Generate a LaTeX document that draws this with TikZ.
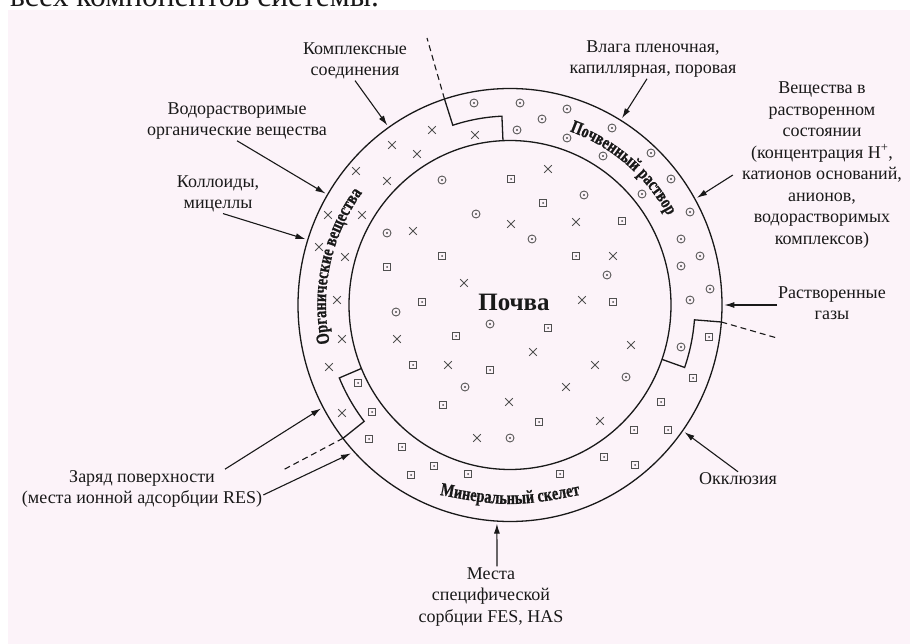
\documentclass[tikz,border=0pt]{standalone}
\usepackage{fontspec}
\setmainfont{Liberation Serif}
\newfontfamily\ringfont[FakeStretch=0.78, FakeBold=0.8]{Liberation Serif}
\usetikzlibrary{arrows.meta,decorations.text,calc}
\definecolor{bgpink}{RGB}{252,243,249}
\definecolor{ink}{RGB}{25,25,25}
\definecolor{mkgray}{RGB}{80,80,80}
\newcommand{\ringstyle}{\ringfont\bfseries\fontsize{18.5}{18.5}\selectfont\color{ink}}
\begin{document}
\begin{tikzpicture}[x=1pt,y=-1pt,
  lab/.style={font=\fontsize{18}{21.5}\selectfont, align=center, text=ink, inner sep=1pt},
  arr/.style={-{Latex[length=10pt,width=6pt]}, line width=1.1pt, draw=ink},
  ring/.style={line width=1.3pt, draw=ink},
  dashline/.style={dash pattern=on 6pt off 4pt, line width=1.1pt, draw=ink},
  mk/.style={draw=mkgray, line width=0.85pt},
  xmark/.pic={\draw[mk] (-3.8,-3.8)--(3.8,3.8) (-3.8,3.8)--(3.8,-3.8);},
  odot/.pic={\draw[mk] (0,0) circle (4); \fill[mkgray] (0,0) circle (1.1);},
  sdot/.pic={\draw[mk] (-3.7,-3.7) rectangle (3.7,3.7); \fill[mkgray] (0,0) circle (1);},
]
\useasboundingbox (0,0) rectangle (910,644);
\fill[white] (0,0) rectangle (910,644);
\fill[bgpink] (8,10) rectangle (910,644);

% cropped line of text at the very top
\begin{scope}
  \clip (0,0) rectangle (400,8);
  \node[anchor=base west, font=\fontsize{31.5}{31.5}\selectfont, inner sep=0pt, text=ink] (toptext) at (10,6.5) {всех компонентов системы.};
\end{scope}

% ---------- rings ----------
\begin{scope}[shift={(510,305)}, x=0.979pt, y=1pt]
  \draw[ring] (0,0) ellipse [x radius=212pt, y radius=216.5pt];
  \draw[ring] (0,0) ellipse [x radius=161pt, y radius=164.5pt];
  % sector boundaries
  \draw[ring] (108:216.5) -- (108:189) arc[start angle=108, end angle=92.5, x radius=185pt, y radius=189pt] -- (92.5:164.5);
  \draw[ring] (-4.5:216.5) -- (-4.5:189) arc[start angle=-4.5, end angle=-19.3, x radius=185pt, y radius=189pt] -- (-19.3:164.5);
  \draw[ring] (202.7:164.5) -- (202.7:189) arc[start angle=202.7, end angle=218, x radius=185pt, y radius=189pt] -- (218:216.5);
  \coordinate (bTop) at (108:216.5);
  \coordinate (bRight) at (-4.5:216.5);
  \coordinate (bLB) at (218:216.5);
  % arrow targets on the outer circle
  \coordinate (tKompl) at (124.9:219);
  \coordinate (tVodor) at (149.4:219);
  \coordinate (tKoll) at (162.5:219);
  \coordinate (tVlaga) at (58.5:219);
  \coordinate (tVeshch) at (29.3:219);
  \coordinate (tGazy) at (0:219);
  \coordinate (tOkkl) at (-35.5:219);
  \coordinate (tMesta) at (266.5:219);
  \coordinate (tZarA) at (208.2:219);
  \coordinate (tZarB) at (222.4:220);
  % ring labels
  \path[decorate, decoration={text along path, text align=center, text={|\ringstyle|Органические вещества}}]
    (205:188) arc[start angle=205, end angle=130, x radius=184pt, y radius=188pt];
  \path[decorate, decoration={text along path, text align=center, text={|\ringstyle|Почвенный раствор}}]
    (90:184) arc[start angle=90, end angle=10, x radius=180.1pt, y radius=184pt];
\end{scope}
\path[decorate, decoration={text along path, text align=center, text={|\ringstyle|Минеральный скелет}}]
  (410,489) .. controls (510,509) .. (610,489);

% dashed extensions
\coordinate (dTop) at (427,38);
\coordinate (dRight) at (777,338);
\coordinate (dLB) at (283,470);
\draw[dashline] (bTop) -- (dTop);
\draw[dashline] (bRight) -- (dRight);
\draw[dashline] (bLB) -- (dLB);

% ---------- markers ----------
\foreach \x/\y in {432/130, 392/145, 417/154, 356/171, 387/181, 475/135, 548/169, 328/215, 362/215, 413/231,
  319/247, 345/257, 337/300, 511/224, 576/222, 613/256, 464/283, 582/300, 397/339, 342/339, 533/352, 448/365,
  595/365, 329/367, 566/387, 509/402, 342/413, 600/421, 477/438, 631/345}
  \pic at (\x,\y) {xmark};
\foreach \x/\y in {474/103, 520/103, 567/109, 542/119, 517/130, 612/128, 567/138, 603/156, 651/153, 442/180,
  671/179, 584/195, 642/194, 476/214, 690/212, 387/233, 532/239, 681/239, 700/256, 681/266, 607/275, 710/289,
  396/312, 690/300, 490/324, 681/347, 465/387, 626/377, 510/438}
  \pic at (\x,\y) {odot};
\foreach \x/\y in {511/179, 543/203, 622/221, 442/256, 387/267, 576/256, 422/302, 613/302, 548/328, 456/336,
  413/365, 490/370, 709/337, 358/383, 443/405, 372/412, 539/422, 693/378, 369/439, 402/447, 604/457, 661/402,
  434/466, 411/475, 468/474, 560/474, 634/430, 668/430, 635/465}
  \pic at (\x,\y) {sdot};

% ---------- labels ----------
\node[font=\bfseries\fontsize{25}{25}\selectfont, text=ink, inner sep=0pt] (pochva) at (514,302) {Почва};
\node[lab] (kompl) at (355,61) {Комплексные\\соединения};
\node[lab] (vodor) at (237,121) {Водорастворимые\\органические вещества};
\node[lab] (koll) at (218,194) {Коллоиды,\\мицеллы};
\node[lab] (vlaga) at (653,59) {Влага пленочная,\\капиллярная, поровая};
\node[lab] (veshch) at (822,165) {Вещества в\\растворенном\\состоянии\\(концентрация H\textsuperscript{+},\\катионов оснований,\\анионов,\\водорастворимых\\комплексов)};
\node[lab] (gazy) at (832,303) {Растворенные\\газы};
\node[lab] (okkl) at (738,479) {Окклюзия};
\node[lab] (mesta) at (491,597) {Места\\специфической\\сорбции FES, HAS};
\node[lab] (zaryad) at (142,489) {Заряд поверхности\\(места ионной адсорбции RES)};

% ---------- arrows ----------
\draw[arr] (kompl.south) -- (tKompl);
\draw[arr] (vodor.south) -- (tVodor);
\draw[arr] ([xshift=5pt]koll.south) -- (tKoll);
\draw[arr] ([xshift=-6pt]vlaga.south) -- (tVlaga);
\draw[arr] ([xshift=-8pt,yshift=-10pt]veshch.west) -- (tVeshch);
\draw[arr] ([yshift=-2pt]gazy.west) -- (tGazy);
\draw[arr] (okkl.north) -- (tOkkl);
\draw[arr] ([xshift=6pt]mesta.north) -- (tMesta);
\draw[arr] ([xshift=83pt]zaryad.north) -- (tZarA);
\draw[arr] ([yshift=-6pt]zaryad.east) -- (tZarB);
\end{tikzpicture}
\end{document}
